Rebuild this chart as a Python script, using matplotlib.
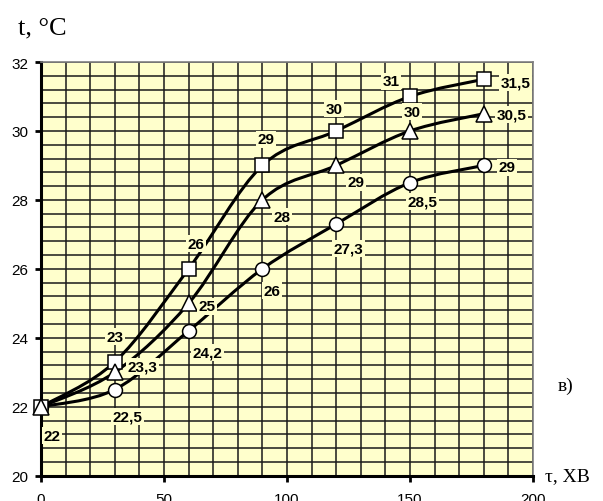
import numpy as np
import matplotlib.pyplot as plt
from matplotlib.path import Path
from matplotlib.patches import PathPatch

# time, min
tau = [0, 30, 60, 90, 120, 150, 180]
t_square = [22, 23.3, 26, 29, 30, 31, 31.5]
t_triangle = [22, 23, 25, 28, 29, 30, 30.5]
t_circle = [22, 22.5, 24.2, 26, 27.3, 28.5, 29]

lbl_square = ['', '23', '26', '29', '30', '31', '31,5']
lbl_triangle = ['22', '23,3', '25', '28', '29', '30', '30,5']
lbl_circle = ['', '22,5', '24,2', '26', '27,3', '28,5', '29']

# label offsets in pixels (dx, dy)
off_square = [(0, 0), (0, 25), (7, 25), (4, 26), (-2, 22), (-19, 15), (32, -3)]
off_triangle = [(11, -29), (28, 6), (18, -3), (20, -17), (20, -17), (2, 19), (28, -1)]
off_circle = [(0, 0), (13, -27), (19, -22), (10, -22), (12, -24), (12, -19), (23, -2)]

BG = '#FFFFCC'


def smooth_path(x, y):
    # Excel-like smoothed line: cubic Bezier through every point
    p = np.column_stack([x, y]).astype(float)
    n = len(p)
    verts = [p[0]]
    codes = [Path.MOVETO]
    for i in range(n - 1):
        p0 = p[i - 1] if i > 0 else p[i]
        p3 = p[i + 2] if i + 2 < n else p[i + 1]
        c1 = p[i] + (p[i + 1] - p0) / 6
        c2 = p[i + 1] - (p3 - p[i]) / 6
        verts += [c1, c2, p[i + 1]]
        codes += [Path.CURVE4] * 3
    return Path(verts, codes)


fig = plt.figure(figsize=(6.03, 5.02), dpi=100)
ax = fig.add_axes([0.068, 0.0504, 0.816, 0.8241])
ax.set_facecolor(BG)
ax.set_xlim(0, 200)
ax.set_ylim(20, 32)

ax.set_xticks(np.arange(0, 201, 50))
ax.set_xticks(np.arange(0, 201, 10), minor=True)
ax.set_yticks(np.arange(20, 33, 2))
ax.set_yticks(np.arange(20, 32.01, 0.4), minor=True)
ax.grid(which='both', color='#1a1a1a', linewidth=1.1)
ax.set_axisbelow(True)
ax.tick_params(which='major', direction='out', length=4, width=2, labelsize=11,
               colors='black')
ax.tick_params(axis='x', which='major', pad=8)
ax.tick_params(axis='y', which='major', pad=5)
ax.tick_params(which='minor', length=0)
for lab in ax.get_xticklabels() + ax.get_yticklabels():
    lab.set_fontfamily('Liberation Sans')

for s in ['left', 'bottom']:
    ax.spines[s].set_linewidth(2.2)
    ax.spines[s].set_color('black')
for s in ['top', 'right']:
    ax.spines[s].set_linewidth(1.2)
    ax.spines[s].set_color('#808080')

# drawing order: circles under squares under triangles
series = [
    (t_circle, 'o', lbl_circle, off_circle, 10),
    (t_square, 's', lbl_square, off_square, 10),
    (t_triangle, '^', lbl_triangle, off_triangle, 11),
]
for k, (vals, mk, labels, offs, ms) in enumerate(series):
    ax.add_patch(PathPatch(smooth_path(tau, vals), facecolor='none',
                           edgecolor='black', lw=2.2, zorder=3))
    ax.plot(tau, vals, linestyle='none', marker=mk, markersize=ms,
            markerfacecolor='white', markeredgecolor='black', markeredgewidth=1.1,
            zorder=4 + k * 0.1, clip_on=False)
    for x, y, lab, (dx, dy) in zip(tau, vals, labels, offs):
        if not lab:
            continue
        ax.annotate(lab, (x, y), xytext=(dx, dy), textcoords='offset pixels',
                    ha='center', va='center', fontsize=11, fontweight='bold',
                    family='Liberation Sans', zorder=5,
                    bbox=dict(boxstyle='square,pad=0.1', facecolor=BG,
                              edgecolor='none'))

fig.text(18 / 603, 1 - 28 / 502, 't, °C', fontsize=19, family='Liberation Serif',
         ha='left', va='center')
fig.text(545 / 603, 1 - 477 / 502, 'τ, ХВ', fontsize=14, family='Liberation Serif',
         ha='left', va='center')
fig.text(558 / 603, 1 - 386 / 502, 'в)', fontsize=14, family='Liberation Serif',
         ha='left', va='center')

fig.savefig('out.png', dpi=100)
